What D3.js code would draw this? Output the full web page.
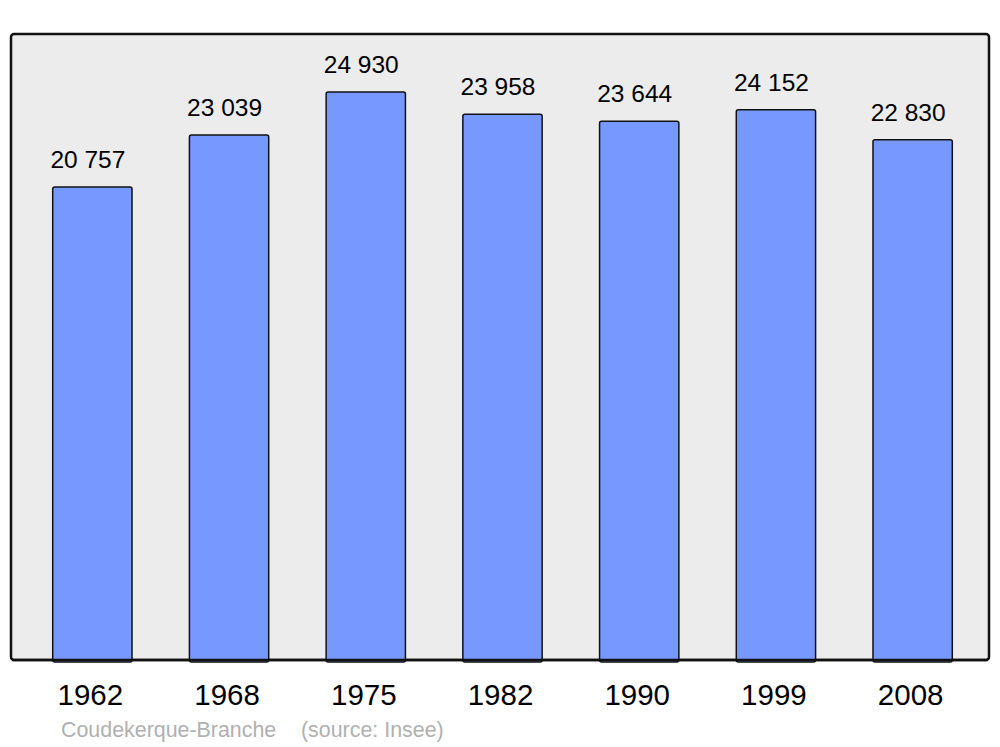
<!DOCTYPE html>
<html>
<head>
<meta charset="utf-8">
<script src="https://cdn.jsdelivr.net/npm/d3@7"></script>
<style>
  body { margin: 0; background: #fff; }
  svg { display: block; font-family: "Liberation Sans", Arial, sans-serif; }
</style>
</head>
<body>
<svg id="chart"></svg>
<script>
const years = ["1962", "1968", "1975", "1982", "1990", "1999", "2008"];
const population = [20757, 23039, 24930, 23958, 23644, 24152, 22830];
const townName = "Coudekerque-Branche";
const sourceText = "(source: Insee)";

const width = 1000, height = 747;
const panel = { left: 11, right: 989, top: 34, bottom: 660 };

const svg = d3.select("#chart")
    .attr("width", width)
    .attr("height", height);

// grey panel
svg.append("rect")
    .attr("x", panel.left)
    .attr("y", panel.top)
    .attr("width", panel.right - panel.left)
    .attr("height", panel.bottom - panel.top)
    .attr("rx", 3)
    .attr("fill", "#ececec")
    .attr("stroke", "#111")
    .attr("stroke-width", 2.5);

const x = d3.scaleBand()
    .domain(years)
    .range([24, 981])
    .paddingInner(0.42)
    .paddingOuter(0.21);

const y = d3.scaleLinear()
    .domain([0, 27476])
    .range([panel.bottom, panel.top]);

const data = years.map((yr, i) => ({ year: yr, value: population[i] }));

// bars
svg.append("g")
    .selectAll("rect")
    .data(data)
    .enter().append("rect")
    .attr("x", d => x(d.year))
    .attr("y", d => y(d.value))
    .attr("width", x.bandwidth())
    .attr("height", d => y(0) - y(d.value) + 2)
    .attr("rx", 2)
    .attr("fill", "#7799ff")
    .attr("stroke", "#111")
    .attr("stroke-width", 1.5);

// redraw bottom edge of panel over the bars
svg.append("line")
    .attr("x1", panel.left + 1)
    .attr("x2", panel.right - 1)
    .attr("y1", panel.bottom)
    .attr("y2", panel.bottom)
    .attr("stroke", "#111")
    .attr("stroke-width", 2.5);

const fmt = v => d3.format(",")(v).replace(",", " ");

// value labels
svg.append("g")
    .selectAll("text")
    .data(data)
    .enter().append("text")
    .attr("x", d => x(d.year) + x.bandwidth() / 2 - 4.5)
    .attr("y", d => y(d.value) - 19)
    .attr("text-anchor", "middle")
    .attr("font-size", 24.5)
    .attr("fill", "#000")
    .text(d => fmt(d.value));

// year axis
const axis = svg.append("g")
    .attr("transform", `translate(-2,${panel.bottom})`)
    .call(d3.axisBottom(x).tickSize(0).tickPadding(0));
axis.select(".domain").remove();
axis.selectAll("text")
    .attr("y", 45)
    .attr("dy", 0)
    .attr("font-size", 29.5)
    .attr("font-family", "Liberation Sans, Arial, sans-serif")
    .attr("fill", "#000");

// source line
svg.append("text")
    .attr("x", 61)
    .attr("y", 737)
    .attr("font-size", 21.4)
    .attr("fill", "#b0b0b0")
    .text(townName);
svg.append("text")
    .attr("x", 301)
    .attr("y", 737)
    .attr("font-size", 21.4)
    .attr("fill", "#b0b0b0")
    .text(sourceText);
</script>
</body>
</html>
